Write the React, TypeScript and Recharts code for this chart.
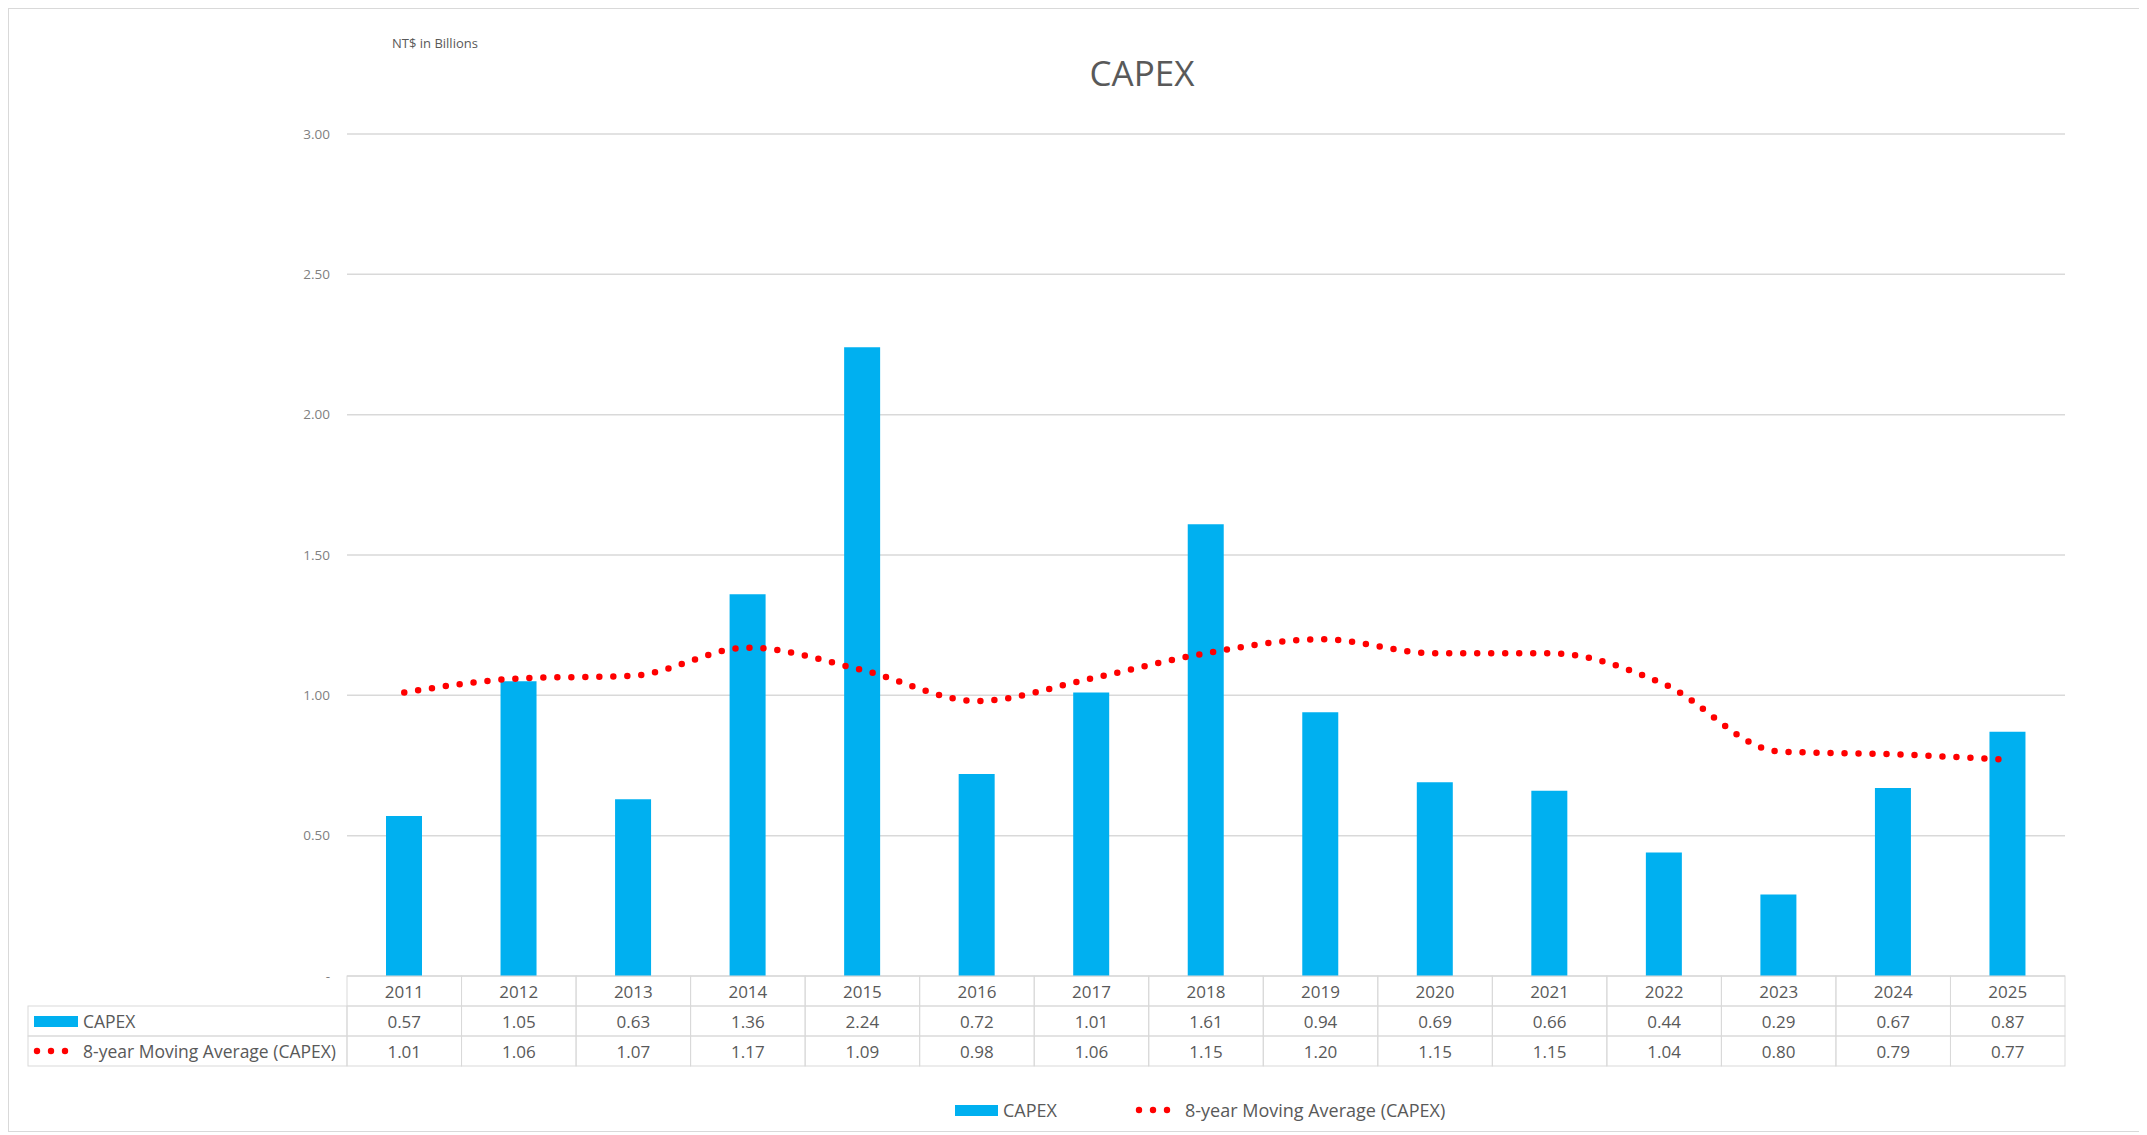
import { ComposedChart, Bar, Line, XAxis, YAxis, CartesianGrid } from "recharts";

const years = ["2011", "2012", "2013", "2014", "2015", "2016", "2017", "2018", "2019", "2020", "2021", "2022", "2023", "2024", "2025"];
const capex = [0.57, 1.05, 0.63, 1.36, 2.24, 0.72, 1.01, 1.61, 0.94, 0.69, 0.66, 0.44, 0.29, 0.67, 0.87];
const movingAvg = [1.01, 1.06, 1.07, 1.17, 1.09, 0.98, 1.06, 1.15, 1.2, 1.15, 1.15, 1.04, 0.8, 0.79, 0.77];
const yTicks = [0, 0.5, 1, 1.5, 2, 2.5, 3];

const capexLabel = "CAPEX";
const avgLabel = "8-year Moving Average (CAPEX)";

const data = years.map((year, i) => ({ year, capex: capex[i], avg: movingAvg[i] }));

const FONT = "'Open Sans', 'Liberation Sans', sans-serif";
const BLUE = "#00b0f0";
const RED = "#ff0000";
const GRID = "#d9d9d9";
const TEXT = "#595959";

const CHART_W = 2134;
const CHART_H = 1122;
const PLOT_LEFT = 338;
const PLOT_RIGHT = 78;
const CELL_W = (CHART_W - PLOT_LEFT - PLOT_RIGHT) / years.length;
const ROW_H = 30;
const LABEL_X = 19;

function Dots({ x, y }: { x: number; y: number }) {
  return (
    <g>
      {[0, 1, 2].map((k) => (
        <circle key={k} cx={x + k * 14} cy={y} r={3.2} fill={RED} />
      ))}
    </g>
  );
}

function TableTick(props: any) {
  const { x, y, index } = props;
  const left = x - CELL_W / 2;
  const rows = [years[index], capex[index].toFixed(2), movingAvg[index].toFixed(2)];
  return (
    <g>
      {rows.map((txt, r) => (
        <g key={r}>
          <rect x={left} y={y + r * ROW_H} width={CELL_W} height={ROW_H} fill="none" stroke={GRID} strokeWidth={1} />
          <text x={x} y={y + r * ROW_H + ROW_H / 2} textAnchor="middle" dominantBaseline="central" fontSize={17} fill={TEXT} fontFamily={FONT}>
            {txt}
          </text>
        </g>
      ))}
      {index === 0 && (
        <g>
          <rect x={LABEL_X} y={y + ROW_H} width={left - LABEL_X} height={ROW_H} fill="none" stroke={GRID} />
          <rect x={LABEL_X} y={y + 2 * ROW_H} width={left - LABEL_X} height={ROW_H} fill="none" stroke={GRID} />
          <rect x={LABEL_X + 6} y={y + ROW_H + 10} width={44} height={11} fill={BLUE} />
          <text x={LABEL_X + 55} y={y + ROW_H * 1.5} dominantBaseline="central" fontSize={17.5} fill={TEXT} fontFamily={FONT}>
            {capexLabel}
          </text>
          <Dots x={LABEL_X + 9} y={y + ROW_H * 2.5} />
          <text x={LABEL_X + 55} y={y + ROW_H * 2.5} dominantBaseline="central" fontSize={17.5} fill={TEXT} fontFamily={FONT}>
            {avgLabel}
          </text>
        </g>
      )}
    </g>
  );
}

export default function App() {
  return (
    <div
      style={{
        position: "relative",
        width: CHART_W,
        height: CHART_H,
        border: `1px solid ${GRID}`,
        background: "#fff",
        fontFamily: FONT,
      }}
    >
      <div style={{ position: "absolute", left: 383, top: 25, fontSize: 13, color: TEXT }}>NT$ in Billions</div>
      <div
        style={{
          position: "absolute",
          left: 933,
          width: 400,
          top: 44,
          textAlign: "center",
          fontSize: 35,
          lineHeight: "40px",
          color: TEXT,
        }}
      >
        CAPEX
      </div>
      <ComposedChart
        width={CHART_W}
        height={CHART_H}
        data={data}
        margin={{ top: 125, right: PLOT_RIGHT, left: 0, bottom: 0 }}
        barCategoryGap="34%"
      >
        <CartesianGrid horizontal vertical={false} stroke={GRID} strokeWidth={1.5} />
        <XAxis
          dataKey="year"
          height={155}
          interval={0}
          axisLine={false}
          tickLine={false}
          tickSize={0}
          tickMargin={0}
          tick={(p: any) => <TableTick {...p} />}
        />
        <YAxis
          width={PLOT_LEFT}
          domain={[0, 3]}
          ticks={yTicks}
          axisLine={false}
          tickLine={false}
          tickSize={0}
          tickMargin={17}
          tickFormatter={(v: number) => (v === 0 ? "-" : v.toFixed(2))}
          tick={{ fontSize: 13.5, fill: "#7f7f7f", fontFamily: FONT }}
        />
        <Bar dataKey="capex" fill={BLUE} barSize={36} isAnimationActive={false} />
        <Line
          type="monotone"
          dataKey="avg"
          stroke={RED}
          strokeWidth={6.5}
          strokeDasharray="0 14"
          strokeLinecap="round"
          dot={false}
          activeDot={false}
          isAnimationActive={false}
        />
      </ComposedChart>
      <div
        style={{
          position: "absolute",
          left: 946,
          top: 1089,
          display: "flex",
          alignItems: "center",
          fontSize: 18,
          color: TEXT,
        }}
      >
        <span style={{ display: "inline-block", width: 43, height: 11, background: BLUE, marginRight: 5 }} />
        <span>{capexLabel}</span>
        <svg width={40} height={12} style={{ marginLeft: 78, marginRight: 10 }}>
          <Dots x={4} y={6} />
        </svg>
        <span>{avgLabel}</span>
      </div>
    </div>
  );
}
